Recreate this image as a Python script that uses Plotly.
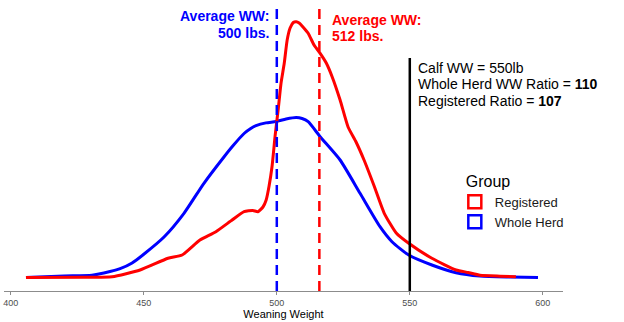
import plotly.graph_objects as go

# ---- data ----
whole_herd_ww = [405.7, 420.0, 430.5, 437.3, 441.1, 445.6, 450.1, 457.6, 465.1, 472.6,
                 480.2, 483.6, 487.7, 490.2, 492.2, 495.9, 499.7, 503.5, 507.3, 509.5,
                 511.8, 516.3, 523.8, 531.3, 538.8, 543.3, 549.6, 558.3, 567.4, 576.4,
                 587.7, 598.2]
whole_herd_density = [0.0000, 0.00015, 0.00022, 0.00060, 0.00088, 0.00145, 0.00235, 0.00405,
                      0.00642, 0.00942, 0.01208, 0.01320, 0.01440, 0.01490, 0.01518, 0.01546,
                      0.01560, 0.01585, 0.01600, 0.01590, 0.01558, 0.01408, 0.01175, 0.00842,
                      0.00508, 0.00358, 0.00225, 0.00125, 0.00048, 0.00015, 0.00005, 0.0000]

registered_ww = [405.7, 427.4, 438.1, 448.6, 459.1, 464.4, 471.1, 477.1, 483.2, 487.7,
                 491.0, 492.9, 494.8, 496.0, 497.1, 498.2, 499.4, 500.5, 501.6, 502.8,
                 503.9, 505.0, 506.2, 507.3, 508.4, 509.5, 511.8, 514.0, 516.3, 518.6,
                 520.8, 523.8, 526.8, 529.8, 532.8, 536.6, 540.4, 544.9, 549.6, 558.3,
                 567.4, 571.9, 576.4, 583.9, 589.9]
registered_density = [0.0000, 0.00003, 0.00008, 0.00075, 0.00192, 0.00225, 0.00375, 0.00458,
                      0.00575, 0.00658, 0.00670, 0.00658, 0.00705, 0.00775, 0.00915, 0.01108,
                      0.01425, 0.01675, 0.01945, 0.02142, 0.02375, 0.02495, 0.02550, 0.02558,
                      0.02545, 0.02515, 0.02442, 0.02325, 0.02242, 0.02145, 0.02008, 0.01775,
                      0.01505, 0.01355, 0.01175, 0.00915, 0.00642, 0.00445, 0.00342, 0.00192,
                      0.00075, 0.00050, 0.00022, 0.00013, 0.00008]

mean_whole_herd = 500
mean_registered_line = 516
calf_ww = 550
x_ticks = [400, 450, 500, 550, 600]

BLUE = "#0000FF"
RED = "#FF0000"
FONT = "Arial, Liberation Sans, sans-serif"

fig = go.Figure()
fig.add_trace(go.Scatter(x=whole_herd_ww, y=whole_herd_density, mode="lines",
                         line=dict(color=BLUE, width=3, shape="spline", smoothing=0.6),
                         showlegend=False, hoverinfo="skip"))
fig.add_trace(go.Scatter(x=registered_ww, y=registered_density, mode="lines",
                         line=dict(color=RED, width=3, shape="spline", smoothing=0.5),
                         showlegend=False, hoverinfo="skip"))
# legend keys (square outlines like the reference)
for name, col in [("Registered", RED), ("Whole Herd", BLUE)]:
    fig.add_trace(go.Scatter(x=[None], y=[None], mode="markers", name=name,
                             marker=dict(symbol="square-open", size=13, color=col,
                                         line=dict(color=col, width=2.5))))

# vertical reference lines
fig.add_shape(type="line", xref="x", yref="paper", x0=mean_whole_herd, x1=mean_whole_herd,
              y0=0, y1=1 - 7 / 291, line=dict(color=BLUE, width=2.5, dash="10px,6px"),
              layer="above")
fig.add_shape(type="line", xref="x", yref="paper", x0=mean_registered_line, x1=mean_registered_line,
              y0=0, y1=1 - 7 / 291, line=dict(color=RED, width=2.5, dash="10px,6px"),
              layer="above")
fig.add_shape(type="line", xref="x", yref="paper", x0=calf_ww, x1=calf_ww,
              y0=0, y1=1 - 58 / 291, line=dict(color="black", width=2.5), layer="above")

def ypx(p):
    return 1 - p / 291

ann = dict(showarrow=False, xref="x", yref="paper", yanchor="middle", borderpad=0)
fig.add_annotation(x=497.4, y=ypx(16), text="<b>Average WW:</b>", xanchor="right",
                   font=dict(family=FONT, size=14, color=BLUE), **ann)
fig.add_annotation(x=497.4, y=ypx(32.7), text="<b>500 lbs.</b>", xanchor="right",
                   font=dict(family=FONT, size=14, color=BLUE), **ann)
fig.add_annotation(x=520.4, y=ypx(20), text="<b>Average WW:</b>", xanchor="left",
                   font=dict(family=FONT, size=14, color=RED), **ann)
fig.add_annotation(x=520.4, y=ypx(36), text="<b>512 lbs.</b>", xanchor="left",
                   font=dict(family=FONT, size=14, color=RED), **ann)
fig.add_annotation(x=552.7, y=ypx(67.7), text="Calf WW = 550lb", xanchor="left",
                   font=dict(family=FONT, size=14, color="black"), **ann)
fig.add_annotation(x=552.7, y=ypx(84.3), text="Whole Herd WW Ratio = <b>110</b>", xanchor="left",
                   font=dict(family=FONT, size=14, color="black"), **ann)
fig.add_annotation(x=552.7, y=ypx(100.7), text="Registered Ratio = <b>107</b>", xanchor="left",
                   font=dict(family=FONT, size=14, color="black"), **ann)

fig.update_layout(
    width=624, height=322,
    margin=dict(l=4, r=61, t=0, b=31),
    paper_bgcolor="white", plot_bgcolor="white",
    font=dict(family=FONT),
    legend=dict(title=dict(text="\u00a0\u00a0Group", font=dict(size=16, color="black")),
                font=dict(size=13, color="#1a1a1a"),
                x=(466 - 4) / 559 - 0.02, y=ypx(166), xanchor="left", yanchor="top",
                bgcolor="rgba(0,0,0,0)", itemsizing="trace"),
    xaxis=dict(range=[397.44, 607.6], tickvals=x_ticks, showline=True, linecolor="#8c8c8c",
               linewidth=1, ticks="outside", ticklen=3, tickcolor="#8c8c8c",
               tickfont=dict(size=9, color="#4d4d4d"), showgrid=False, zeroline=False,
               title=dict(text="Weaning Weight", font=dict(size=11, color="black"), standoff=2)),
    yaxis=dict(range=[-0.00135, 0.02775], visible=False, showgrid=False, zeroline=False),
)

fig.write_html("out.html")
